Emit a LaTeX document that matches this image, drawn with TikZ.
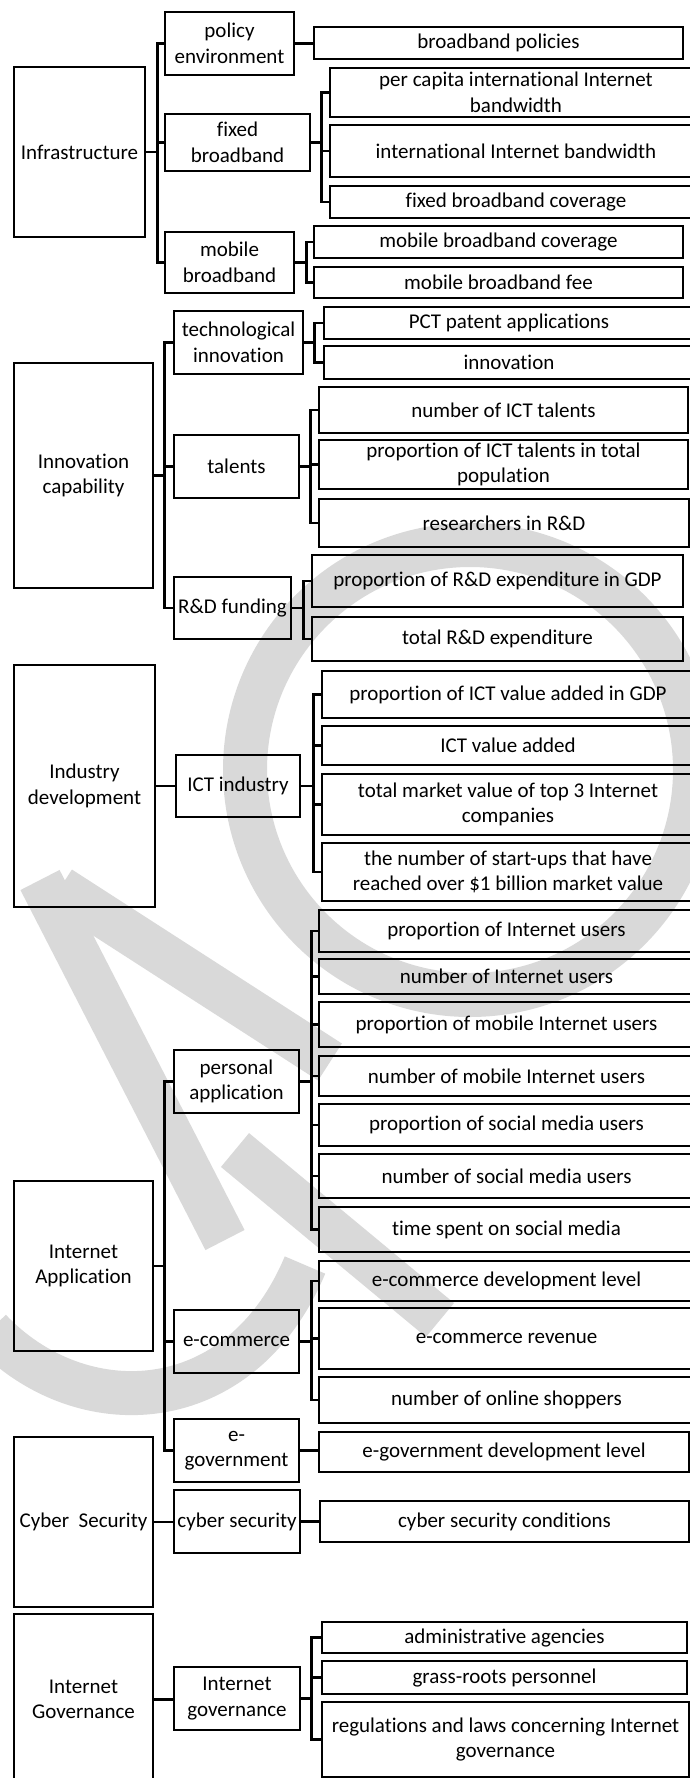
\documentclass[tikz,border=0pt]{standalone}
\usepackage{fontspec}
\setmainfont{Carlito}[Ligatures=NoCommon]
\usetikzlibrary{backgrounds}

\begin{document}
\begin{tikzpicture}[
	x=1pt, y=-1pt,
	% Style for every box of the tree
	box/.style={
		rectangle,
		draw=black,
		line width=2.6pt,
		inner sep=0pt,
		align=center,
		font=\fontsize{21}{25.5}\selectfont
	},
	% Style for the tree connectors
	branch/.style={
		draw=black,
		line width=2.4pt
	},
	% Style for the faint logo strokes
	logostroke/.style={
		draw=black!15,
		line width=44pt,
		line cap=butt
	}
	]
	
	\useasboundingbox (0,0) rectangle (690,1778);
	
	% --- LOGO IN THE BACKGROUND ---
	\draw[logostroke] (470,770) circle[radius=225];
	\draw[logostroke] (40,880) -- (225,1240);
	\draw[logostroke] (60,888) -- (330,1062);
	\draw[logostroke] (235,1150) -- (440,1320);
	\draw[logostroke] (-10,1330) .. controls (80,1425) and (240,1420) .. (305,1265);
	
	% --- FIRST LEVEL ---
	\node[box, minimum width=131, minimum height=170] (infra) at (79.5,152) {Infrastructure};
	\node[box, minimum width=139, minimum height=225] (innov) at (83.5,475.5) {Innovation\\capability};
	\node[box, minimum width=141, minimum height=242] (indus) at (84.5,786) {Industry\\development};
	\node[box, minimum width=139, minimum height=170] (inapp) at (83.5,1266) {Internet\\Application};
	\node[box, minimum width=139, minimum height=170] (cyber) at (83.5,1522) {Cyber~~Security};
	\node[box, minimum width=139, minimum height=171] (gov) at (83.5,1699.5) {Internet\\Governance};
	
	% --- SECOND LEVEL ---
	\node[box, minimum width=129, minimum height=63] (pe) at (229.5,43.5) {policy\\environment};
	\node[box, minimum width=145, minimum height=57] (fb) at (237.5,142.5) {fixed\\broadband};
	\node[box, minimum width=129, minimum height=61] (mb) at (229.5,262.5) {mobile\\broadband};
	\node[box, minimum width=129, minimum height=63] (ti) at (238.5,342.5) {technological\\innovation};
	\node[box, minimum width=125, minimum height=63] (tal) at (236.5,466.5) {talents};
	\node[box, minimum width=117, minimum height=62] (rd) at (232.5,608) {R\&D funding};
	\node[box, minimum width=124, minimum height=62] (ict) at (238,786) {ICT industry};
	\node[box, minimum width=125, minimum height=63] (pa) at (236.5,1081.5) {personal\\application};
	\node[box, minimum width=125, minimum height=63] (ec) at (236.5,1341.5) {e-commerce};
	\node[box, minimum width=125, minimum height=63] (eg) at (236.5,1450.5) {e-\\government};
	\node[box, minimum width=126, minimum height=63] (cs) at (237,1521.5) {cyber security};
	\node[box, minimum width=126, minimum height=63] (ig) at (237,1698.5) {Internet\\governance};
	
	% --- INDICATORS ---
	% Infrastructure
	\node[box, minimum width=369, minimum height=32] (bp) at (498.5,43) {broadband policies};
	\node[box, minimum width=372, minimum height=49] (pci) at (516,92.5) {per capita international Internet\\bandwidth};
	\node[box, minimum width=372, minimum height=52] (iib) at (516,151) {international Internet bandwidth};
	\node[box, minimum width=372, minimum height=32] (fbc) at (516,202) {fixed broadband coverage};
	\node[box, minimum width=369, minimum height=32] (mbc) at (498.5,242) {mobile broadband coverage};
	\node[box, minimum width=369, minimum height=31] (mbf) at (498.5,282.5) {mobile broadband fee};
	% Innovation capability
	\node[box, minimum width=370, minimum height=32] (pct) at (509,323) {PCT patent applications};
	\node[box, minimum width=370, minimum height=33] (inn) at (509,362.5) {innovation};
	\node[box, minimum width=369, minimum height=46] (nict) at (503.5,410) {number of ICT talents};
	\node[box, minimum width=369, minimum height=49] (pict) at (503.5,464.5) {proportion of ICT talents in total\\population};
	\node[box, minimum width=370, minimum height=48] (rrd) at (504,523) {researchers in R\&D};
	\node[box, minimum width=371, minimum height=52] (prd) at (497.5,581) {proportion of R\&D expenditure in GDP};
	\node[box, minimum width=371, minimum height=44] (trd) at (497.5,639) {total R\&D expenditure};
	% Industry development
	\node[box, minimum width=372, minimum height=47] (pva) at (508,694.5) {proportion of ICT value added in GDP};
	\node[box, minimum width=372, minimum height=39] (iva) at (508,745.5) {ICT value added};
	\node[box, minimum width=372, minimum height=61] (tmv) at (508,804.5) {total market value of top 3 Internet\\companies};
	\node[box, minimum width=372, minimum height=58] (su) at (508,872) {the number of start-ups that have\\reached over \$1 billion market value};
	% Internet Application
	\node[box, minimum width=375, minimum height=42] (piu) at (506.5,931) {proportion of Internet users};
	\node[box, minimum width=375, minimum height=35] (niu) at (506.5,976.5) {number of Internet users};
	\node[box, minimum width=375, minimum height=45] (pmi) at (506.5,1024.5) {proportion of mobile Internet users};
	\node[box, minimum width=375, minimum height=40] (nmi) at (506.5,1076) {number of mobile Internet users};
	\node[box, minimum width=375, minimum height=42] (psm) at (506.5,1125) {proportion of social media users};
	\node[box, minimum width=375, minimum height=44] (nsm) at (506.5,1176) {number of social media users};
	\node[box, minimum width=375, minimum height=45] (tsm) at (506.5,1229.5) {time spent on social media};
	\node[box, minimum width=375, minimum height=40] (ecd) at (506.5,1281) {e-commerce development level};
	\node[box, minimum width=375, minimum height=61] (ecr) at (506.5,1338.5) {e-commerce revenue};
	\node[box, minimum width=375, minimum height=46] (nos) at (506.5,1400) {number of online shoppers};
	\node[box, minimum width=370, minimum height=40] (egd) at (504,1452) {e-government development level};
	% Cyber Security
	\node[box, minimum width=369, minimum height=41] (csc) at (504.5,1521.5) {cyber security conditions};
	% Internet Governance
	\node[box, minimum width=365, minimum height=31] (aa) at (504.5,1637.5) {administrative agencies};
	\node[box, minimum width=365, minimum height=33] (grp) at (504.5,1677.5) {grass-roots personnel};
	\node[box, minimum width=367, minimum height=75] (rl) at (505.5,1739.5) {regulations and laws concerning Internet\\governance};
	
	% --- CONNECTORS ---
	% Infrastructure
	\foreach \sub in {pe, fb, mb}
		\draw[branch] (infra.east) -- ++(11,0) |- (\sub.west);
	\draw[branch] (pe.east) -- (bp.west |- pe.east);
	\foreach \ind in {pci, iib, fbc}
		\draw[branch] (fb.east) -- ++(10,0) |- (\ind.west);
	\foreach \ind in {mbc, mbf}
		\draw[branch] (mb.east) -- ++(11,0) |- (\ind.west);
	
	% Innovation capability
	\foreach \sub in {ti, tal, rd}
		\draw[branch] (innov.east) -- ++(10,0) |- (\sub.west);
	\foreach \ind in {pct, inn}
		\draw[branch] (ti.east) -- ++(10,0) |- (\ind.west);
	\foreach \ind in {nict, pict, rrd}
		\draw[branch] (tal.east) -- ++(10,0) |- (\ind.west);
	\foreach \ind in {prd, trd}
		\draw[branch] (rd.east) -- ++(11,0) |- (\ind.west);
	
	% Industry development
	\draw[branch] (indus.east) -- (ict.west);
	\foreach \ind in {pva, iva, tmv, su}
		\draw[branch] (ict.east) -- ++(12,0) |- (\ind.west);
	
	% Internet Application
	\foreach \sub in {pa, ec, eg}
		\draw[branch] (inapp.east) -- ++(10,0) |- (\sub.west);
	\foreach \ind in {piu, niu, pmi, nmi, psm, nsm, tsm}
		\draw[branch] (pa.east) -- ++(11,0) |- (\ind.west);
	\foreach \ind in {ecd, ecr, nos}
		\draw[branch] (ec.east) -- ++(11,0) |- (\ind.west);
	\draw[branch] (eg.east) -- (egd.west |- eg.east);
	
	% Cyber Security
	\draw[branch] (cyber.east) -- (cs.west |- cyber.east);
	\draw[branch] (cs.east) -- (csc.west |- cs.east);
	
	% Internet Governance
	\draw[branch] (gov.east) -- (ig.west |- gov.east);
	\foreach \ind in {aa, grp, rl}
		\draw[branch] (ig.east) -- ++(10,0) |- (\ind.west);
	
\end{tikzpicture}
\end{document}
